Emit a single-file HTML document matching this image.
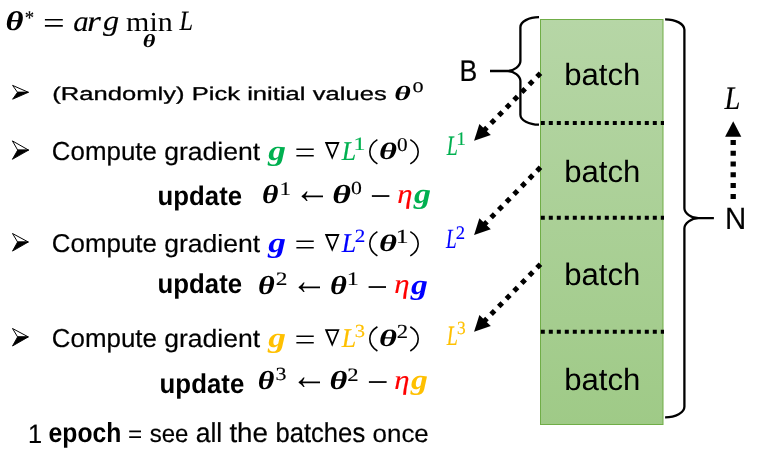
<!DOCTYPE html>
<html><head><meta charset="utf-8"><style>
html,body{margin:0;padding:0;background:#fff;width:758px;height:456px;overflow:hidden}
svg{display:block;will-change:transform}
text{text-rendering:geometricPrecision}
</style></head><body>
<svg width="758" height="456" viewBox="0 0 758 456">
<defs><linearGradient id="gr" x1="0" y1="0" x2="0" y2="1">
<stop offset="0" stop-color="#B6D6A6"/><stop offset="1" stop-color="#9FCA87"/></linearGradient></defs>
<rect x="540.5" y="19.5" width="122.5" height="405" fill="url(#gr)" stroke="#70AD47" stroke-width="1"/>
<line x1="540.8" y1="123.0" x2="664" y2="123.0" stroke="#000" stroke-width="4" stroke-dasharray="4 4"/>
<line x1="540.8" y1="217.8" x2="664" y2="217.8" stroke="#000" stroke-width="4" stroke-dasharray="4 4"/>
<line x1="540.8" y1="331.8" x2="664" y2="331.8" stroke="#000" stroke-width="4" stroke-dasharray="4 4"/>
<path d="M539,17.2 C528.77,17.2 520.4,21.7 520.4,27.2 L520.4,61.0 C520.4,66.0 513.9,71.0 507.4,71.0 L490,71.0 M507.4,71.0 C513.9,71.0 520.4,76.0 520.4,81.0 L520.4,114.7 C520.4,120.2 528.77,124.7 539,124.7" fill="none" stroke="#000" stroke-width="2.3" stroke-linejoin="round"/>
<path d="M665.1,19.3 C675.715,19.3 684.4,24.025000000000002 684.4,29.8 L684.4,208.2 C684.4,213.2 691.4,218.2 698.4,218.2 L713.9,218.2 M698.4,218.2 C691.4,218.2 684.4,223.2 684.4,228.2 L684.4,406.8 C684.4,412.575 675.715,417.3 665.1,417.3" fill="none" stroke="#000" stroke-width="2.3" stroke-linejoin="round"/>
<line x1="540.47" y1="73.13" x2="482.50" y2="132.10" stroke="#000" stroke-width="5" stroke-dasharray="5 5.9"/>
<path d="M474.1,140.70 L479.4,124.00 L490.8,135.00 Z" fill="#000"/>
<line x1="540.47" y1="167.33" x2="482.50" y2="226.30" stroke="#000" stroke-width="5" stroke-dasharray="5 5.9"/>
<path d="M474.1,234.90 L479.4,218.20 L490.8,229.20 Z" fill="#000"/>
<line x1="540.47" y1="264.13" x2="482.50" y2="323.10" stroke="#000" stroke-width="5" stroke-dasharray="5 5.9"/>
<path d="M474.1,331.70 L479.4,315.00 L490.8,326.00 Z" fill="#000"/>
<path d="M733.2,121.2 L725.1,136.8 L741.3,136.8 Z" fill="#000"/>
<line x1="733.2" y1="139.9" x2="733.2" y2="199.5" stroke="#000" stroke-width="5.3" stroke-dasharray="5 5.8"/>
<text transform="matrix(0.34624 0 0 0.27042 5.60 30.43)" font-family="Liberation Serif" font-weight="bold" font-style="italic" font-size="100" fill="#000">θ</text>
<text transform="matrix(0.18875 0 0 0.19456 24.83 24.32)" font-family="Liberation Serif" font-weight="normal" font-style="normal" font-size="100" fill="#000" stroke="#000" stroke-width="0.78">*</text>
<text transform="matrix(0.38495 0 0 0.30800 43.08 32.89)" font-family="Liberation Serif" font-weight="normal" font-style="normal" font-size="100" fill="#000">=</text>
<text transform="matrix(0.30867 0 0 0.29062 73.15 30.53)" font-family="Liberation Serif" font-weight="normal" font-style="italic" font-size="100" fill="#000" stroke="#000" stroke-width="0.50">a</text>
<text transform="matrix(0.35603 0 0 0.29468 87.05 30.72)" font-family="Liberation Serif" font-weight="normal" font-style="italic" font-size="100" fill="#000" stroke="#000" stroke-width="0.46">r</text>
<text transform="matrix(0.32234 0 0 0.28059 102.98 30.06)" font-family="Liberation Serif" font-weight="normal" font-style="italic" font-size="100" fill="#000" stroke="#000" stroke-width="0.50">g</text>
<text transform="matrix(0.30000 0 0 0.27623 126.10 30.60)" font-family="Liberation Serif" font-weight="normal" font-style="normal" font-size="100" fill="#000">min</text>
<text transform="matrix(0.24327 0 0 0.28015 179.58 30.33)" font-family="Liberation Serif" font-weight="normal" font-style="italic" font-size="100" fill="#000" stroke="#000" stroke-width="0.57">L</text>
<text transform="matrix(0.24301 0 0 0.18451 142.79 46.72)" font-family="Liberation Serif" font-weight="bold" font-style="italic" font-size="100" fill="#000">θ</text>
<path d="M12.6,85.4 L28.4,92.3 L17.5,92.3 Z" fill="#fff" stroke="#000" stroke-width="1.0" stroke-linejoin="round"/>
<path d="M17.5,92.3 L28.4,92.3 L12.6,99.19999999999999 Z" fill="#000" stroke="#000" stroke-width="0.9" stroke-linejoin="round"/>
<path d="M12.4,140.9 L28.599999999999998,150.1 L17.7,150.1 Z" fill="#fff" stroke="#000" stroke-width="1.0" stroke-linejoin="round"/>
<path d="M17.7,150.1 L28.599999999999998,150.1 L12.4,159.29999999999998 Z" fill="#000" stroke="#000" stroke-width="0.9" stroke-linejoin="round"/>
<path d="M12.5,233.5 L28.299999999999997,242 L17.6,242 Z" fill="#fff" stroke="#000" stroke-width="1.0" stroke-linejoin="round"/>
<path d="M17.6,242 L28.299999999999997,242 L12.5,251.1 Z" fill="#000" stroke="#000" stroke-width="0.9" stroke-linejoin="round"/>
<path d="M12.5,328.5 L28.299999999999997,336.9 L17.6,336.9 Z" fill="#fff" stroke="#000" stroke-width="1.0" stroke-linejoin="round"/>
<path d="M17.6,336.9 L28.299999999999997,336.9 L12.5,346.0 Z" fill="#000" stroke="#000" stroke-width="0.9" stroke-linejoin="round"/>
<text transform="matrix(0.25616 0 0 0.18552 52.17 99.73)" font-family="Liberation Sans" font-weight="normal" font-style="normal" font-size="100" fill="#000" stroke="#000" stroke-width="1.58">(Randomly) Pick initial values</text>
<text transform="matrix(0.31828 0 0 0.20423 394.31 99.90)" font-family="Liberation Serif" font-weight="bold" font-style="italic" font-size="100" fill="#000">θ</text>
<text transform="matrix(0.22235 0 0 0.14593 412.54 92.38)" font-family="Liberation Serif" font-weight="normal" font-style="normal" font-size="100" fill="#000" stroke="#000" stroke-width="0.81">0</text>
<text transform="matrix(0.25902 0 0 0.26093 51.80 159.90)" font-family="Liberation Sans" font-weight="normal" font-style="normal" font-size="100" fill="#000" stroke="#000" stroke-width="0.77">Compute</text>
<text transform="matrix(0.26554 0 0 0.25103 164.17 159.90)" font-family="Liberation Sans" font-weight="normal" font-style="normal" font-size="100" fill="#000" stroke="#000" stroke-width="0.77">gradient</text>
<text transform="matrix(0.35306 0 0 0.28132 268.22 159.62)" font-family="Liberation Serif" font-weight="bold" font-style="italic" font-size="100" fill="#00B050">g</text>
<text transform="matrix(0.37419 0 0 0.31600 294.53 162.66)" font-family="Liberation Serif" font-weight="normal" font-style="normal" font-size="100" fill="#000">=</text>
<path d="M324.80,142.10 L339.60,142.10 L332.20,159.70 Z M327.66,144.00 L332.36,155.18 L337.07,144.00 Z" fill="#000" fill-rule="evenodd"/>
<text transform="matrix(0.25865 0 0 0.26947 341.80 159.62)" font-family="Liberation Serif" font-weight="normal" font-style="italic" font-size="100" fill="#00B050" stroke="#00B050" stroke-width="0.57">L</text>
<text transform="matrix(0.23972 0 0 0.18712 353.58 150.32)" font-family="Liberation Serif" font-weight="normal" font-style="normal" font-size="100" fill="#00B050" stroke="#00B050" stroke-width="0.70">1</text>
<path d="M377.40,139.60 C367.27,145.88 367.27,157.62 377.40,163.90" fill="none" stroke="#000" stroke-width="1.6"/>
<text transform="matrix(0.34624 0 0 0.23662 379.10 159.06)" font-family="Liberation Serif" font-weight="bold" font-style="italic" font-size="100" fill="#000">θ</text>
<text transform="matrix(0.21294 0 0 0.19630 397.08 150.83)" font-family="Liberation Serif" font-weight="normal" font-style="normal" font-size="100" fill="#000" stroke="#000" stroke-width="0.73">0</text>
<path d="M410.30,139.60 C420.83,145.88 420.83,157.62 410.30,163.90" fill="none" stroke="#000" stroke-width="1.6"/>
<text transform="matrix(0.25902 0 0 0.25806 51.80 251.50)" font-family="Liberation Sans" font-weight="normal" font-style="normal" font-size="100" fill="#000" stroke="#000" stroke-width="0.77">Compute</text>
<text transform="matrix(0.26554 0 0 0.24828 164.17 251.50)" font-family="Liberation Sans" font-weight="normal" font-style="normal" font-size="100" fill="#000" stroke="#000" stroke-width="0.78">gradient</text>
<text transform="matrix(0.35306 0 0 0.28132 268.22 251.62)" font-family="Liberation Serif" font-weight="bold" font-style="italic" font-size="100" fill="#0000FF">g</text>
<text transform="matrix(0.37419 0 0 0.31600 294.53 254.66)" font-family="Liberation Serif" font-weight="normal" font-style="normal" font-size="100" fill="#000">=</text>
<path d="M324.80,234.10 L339.60,234.10 L332.20,251.70 Z M327.66,236.00 L332.36,247.18 L337.07,236.00 Z" fill="#000" fill-rule="evenodd"/>
<text transform="matrix(0.25865 0 0 0.26947 341.80 251.62)" font-family="Liberation Serif" font-weight="normal" font-style="italic" font-size="100" fill="#0000FF" stroke="#0000FF" stroke-width="0.57">L</text>
<text transform="matrix(0.21125 0 0 0.18642 354.72 242.32)" font-family="Liberation Serif" font-weight="normal" font-style="normal" font-size="100" fill="#0000FF" stroke="#0000FF" stroke-width="0.75">2</text>
<path d="M377.40,231.60 C367.27,237.88 367.27,249.62 377.40,255.90" fill="none" stroke="#000" stroke-width="1.6"/>
<text transform="matrix(0.34624 0 0 0.23662 379.10 251.06)" font-family="Liberation Serif" font-weight="bold" font-style="italic" font-size="100" fill="#000">θ</text>
<text transform="matrix(0.25674 0 0 0.20076 395.63 243.03)" font-family="Liberation Serif" font-weight="normal" font-style="normal" font-size="100" fill="#000" stroke="#000" stroke-width="0.66">1</text>
<path d="M410.30,231.60 C420.83,237.88 420.83,249.62 410.30,255.90" fill="none" stroke="#000" stroke-width="1.6"/>
<text transform="matrix(0.25902 0 0 0.25950 51.80 346.50)" font-family="Liberation Sans" font-weight="normal" font-style="normal" font-size="100" fill="#000" stroke="#000" stroke-width="0.77">Compute</text>
<text transform="matrix(0.26554 0 0 0.24966 164.17 346.50)" font-family="Liberation Sans" font-weight="normal" font-style="normal" font-size="100" fill="#000" stroke="#000" stroke-width="0.78">gradient</text>
<text transform="matrix(0.35306 0 0 0.28132 268.22 346.72)" font-family="Liberation Serif" font-weight="bold" font-style="italic" font-size="100" fill="#FFC000">g</text>
<text transform="matrix(0.37419 0 0 0.31600 294.53 349.76)" font-family="Liberation Serif" font-weight="normal" font-style="normal" font-size="100" fill="#000">=</text>
<path d="M324.80,329.20 L339.60,329.20 L332.20,346.80 Z M327.66,331.10 L332.36,342.28 L337.07,331.10 Z" fill="#000" fill-rule="evenodd"/>
<text transform="matrix(0.25865 0 0 0.26947 341.80 346.73)" font-family="Liberation Serif" font-weight="normal" font-style="italic" font-size="100" fill="#FFC000" stroke="#FFC000" stroke-width="0.57">L</text>
<text transform="matrix(0.20485 0 0 0.18364 354.70 337.24)" font-family="Liberation Serif" font-weight="normal" font-style="normal" font-size="100" fill="#FFC000" stroke="#FFC000" stroke-width="0.77">3</text>
<path d="M377.40,326.70 C367.27,332.98 367.27,344.73 377.40,351.00" fill="none" stroke="#000" stroke-width="1.6"/>
<text transform="matrix(0.34624 0 0 0.23662 379.10 346.16)" font-family="Liberation Serif" font-weight="bold" font-style="italic" font-size="100" fill="#000">θ</text>
<text transform="matrix(0.22625 0 0 0.20000 396.86 338.12)" font-family="Liberation Serif" font-weight="normal" font-style="normal" font-size="100" fill="#000" stroke="#000" stroke-width="0.70">2</text>
<path d="M410.30,326.70 C420.83,332.98 420.83,344.73 410.30,351.00" fill="none" stroke="#000" stroke-width="1.6"/>
<text transform="matrix(0.25797 0 0 0.26897 157.59 205.10)" font-family="Liberation Sans" font-weight="bold" font-style="normal" font-size="100" fill="#000">update</text>
<text transform="matrix(0.25797 0 0 0.27310 157.59 293.40)" font-family="Liberation Sans" font-weight="bold" font-style="normal" font-size="100" fill="#000">update</text>
<text transform="matrix(0.25829 0 0 0.27310 159.59 393.40)" font-family="Liberation Sans" font-weight="bold" font-style="normal" font-size="100" fill="#000">update</text>
<text transform="matrix(0.31613 0 0 0.26197 261.91 203.14)" font-family="Liberation Serif" font-weight="bold" font-style="italic" font-size="100" fill="#000">θ</text>
<text transform="matrix(0.23121 0 0 0.19015 279.45 194.53)" font-family="Liberation Serif" font-weight="normal" font-style="normal" font-size="100" fill="#000" stroke="#000" stroke-width="0.71">1</text>
<text transform="matrix(0.36102 0 0 0.40430 294.20 202.62)" font-family="Liberation Serif" font-weight="normal" font-style="normal" font-size="100" fill="#000">←</text>
<text transform="matrix(0.35914 0 0 0.26197 332.25 203.14)" font-family="Liberation Serif" font-weight="bold" font-style="italic" font-size="100" fill="#000">θ</text>
<text transform="matrix(0.21765 0 0 0.18593 351.06 194.34)" font-family="Liberation Serif" font-weight="normal" font-style="normal" font-size="100" fill="#000" stroke="#000" stroke-width="0.74">0</text>
<text transform="matrix(0.37634 0 0 0.36000 370.12 207.87)" font-family="Liberation Serif" font-weight="normal" font-style="normal" font-size="100" fill="#000">−</text>
<text transform="matrix(0.30833 0 0 0.27473 397.20 202.59)" font-family="Liberation Serif" font-weight="normal" font-style="italic" font-size="100" fill="#FF0000" stroke="#FF0000" stroke-width="0.51">η</text>
<text transform="matrix(0.33878 0 0 0.27985 414.09 202.75)" font-family="Liberation Serif" font-weight="bold" font-style="italic" font-size="100" fill="#00B050">g</text>
<text transform="matrix(0.32258 0 0 0.26197 258.09 294.04)" font-family="Liberation Serif" font-weight="bold" font-style="italic" font-size="100" fill="#000">θ</text>
<text transform="matrix(0.23375 0 0 0.18943 275.72 285.43)" font-family="Liberation Serif" font-weight="normal" font-style="normal" font-size="100" fill="#000" stroke="#000" stroke-width="0.71">2</text>
<text transform="matrix(0.36102 0 0 0.40430 291.30 293.52)" font-family="Liberation Serif" font-weight="normal" font-style="normal" font-size="100" fill="#000">←</text>
<text transform="matrix(0.32473 0 0 0.26197 329.98 294.04)" font-family="Liberation Serif" font-weight="bold" font-style="italic" font-size="100" fill="#000">θ</text>
<text transform="matrix(0.24255 0 0 0.19015 346.85 285.43)" font-family="Liberation Serif" font-weight="normal" font-style="normal" font-size="100" fill="#000" stroke="#000" stroke-width="0.69">1</text>
<text transform="matrix(0.37419 0 0 0.36000 366.63 298.77)" font-family="Liberation Serif" font-weight="normal" font-style="normal" font-size="100" fill="#000">−</text>
<text transform="matrix(0.30833 0 0 0.27473 394.30 293.49)" font-family="Liberation Serif" font-weight="normal" font-style="italic" font-size="100" fill="#FF0000" stroke="#FF0000" stroke-width="0.51">η</text>
<text transform="matrix(0.33673 0 0 0.27985 411.09 293.65)" font-family="Liberation Serif" font-weight="bold" font-style="italic" font-size="100" fill="#0000FF">g</text>
<text transform="matrix(0.32043 0 0 0.26197 257.70 389.24)" font-family="Liberation Serif" font-weight="bold" font-style="italic" font-size="100" fill="#000">θ</text>
<text transform="matrix(0.21939 0 0 0.18662 275.43 380.44)" font-family="Liberation Serif" font-weight="normal" font-style="normal" font-size="100" fill="#000" stroke="#000" stroke-width="0.74">3</text>
<text transform="matrix(0.36102 0 0 0.40430 291.30 388.72)" font-family="Liberation Serif" font-weight="normal" font-style="normal" font-size="100" fill="#000">←</text>
<text transform="matrix(0.34409 0 0 0.26197 329.41 389.24)" font-family="Liberation Serif" font-weight="bold" font-style="italic" font-size="100" fill="#000">θ</text>
<text transform="matrix(0.22625 0 0 0.18943 347.16 380.62)" font-family="Liberation Serif" font-weight="normal" font-style="normal" font-size="100" fill="#000" stroke="#000" stroke-width="0.72">2</text>
<text transform="matrix(0.38065 0 0 0.36000 367.00 393.97)" font-family="Liberation Serif" font-weight="normal" font-style="normal" font-size="100" fill="#000">−</text>
<text transform="matrix(0.30833 0 0 0.27473 394.30 388.69)" font-family="Liberation Serif" font-weight="normal" font-style="italic" font-size="100" fill="#FF0000" stroke="#FF0000" stroke-width="0.51">η</text>
<text transform="matrix(0.33673 0 0 0.27985 411.09 388.85)" font-family="Liberation Serif" font-weight="bold" font-style="italic" font-size="100" fill="#FFC000">g</text>
<text transform="matrix(0.25434 0 0 0.26327 27.99 442.50)" font-family="Liberation Sans" font-weight="normal" font-style="normal" font-size="100" fill="#000" stroke="#000" stroke-width="0.77">1</text>
<text transform="matrix(0.24745 0 0 0.27586 48.61 442.20)" font-family="Liberation Sans" font-weight="bold" font-style="normal" font-size="100" fill="#000">epoch</text>
<text transform="matrix(0.24330 0 0 0.23566 127.98 442.05)" font-family="Liberation Sans" font-weight="normal" font-style="normal" font-size="100" fill="#000">=</text>
<text transform="matrix(0.24026 0 0 0.24840 149.74 442.05)" font-family="Liberation Sans" font-weight="normal" font-style="normal" font-size="100" fill="#000" stroke="#000" stroke-width="0.82">see</text>
<text transform="matrix(0.26517 0 0 0.27310 195.67 442.10)" font-family="Liberation Sans" font-weight="normal" font-style="normal" font-size="100" fill="#000" stroke="#000" stroke-width="0.74">all</text>
<text transform="matrix(0.27767 0 0 0.27310 229.38 442.10)" font-family="Liberation Sans" font-weight="normal" font-style="normal" font-size="100" fill="#000" stroke="#000" stroke-width="0.73">the</text>
<text transform="matrix(0.25628 0 0 0.27310 275.43 442.10)" font-family="Liberation Sans" font-weight="normal" font-style="normal" font-size="100" fill="#000" stroke="#000" stroke-width="0.76">batches</text>
<text transform="matrix(0.25882 0 0 0.24840 372.60 442.05)" font-family="Liberation Sans" font-weight="normal" font-style="normal" font-size="100" fill="#000" stroke="#000" stroke-width="0.79">once</text>
<text transform="matrix(0.31188 0 0 0.30897 564.17 84.70)" font-family="Liberation Sans" font-weight="normal" font-style="normal" font-size="100" fill="#000">batch</text>
<text transform="matrix(0.31188 0 0 0.30897 564.17 182.30)" font-family="Liberation Sans" font-weight="normal" font-style="normal" font-size="100" fill="#000">batch</text>
<text transform="matrix(0.31188 0 0 0.31034 564.17 285.40)" font-family="Liberation Sans" font-weight="normal" font-style="normal" font-size="100" fill="#000">batch</text>
<text transform="matrix(0.31188 0 0 0.30897 564.17 389.70)" font-family="Liberation Sans" font-weight="normal" font-style="normal" font-size="100" fill="#000">batch</text>
<text transform="matrix(0.26667 0 0 0.29964 459.50 80.60)" font-family="Liberation Sans" font-weight="normal" font-style="normal" font-size="100" fill="#000" stroke="#000" stroke-width="0.71">B</text>
<text transform="matrix(0.29417 0 0 0.30691 724.97 228.90)" font-family="Liberation Sans" font-weight="normal" font-style="normal" font-size="100" fill="#000" stroke="#000" stroke-width="0.67">N</text>
<text transform="matrix(0.28558 0 0 0.32748 724.43 109.42)" font-family="Liberation Serif" font-weight="normal" font-style="italic" font-size="100" fill="#000" stroke="#000" stroke-width="0.49">L</text>
<text transform="matrix(0.19904 0 0 0.28168 446.82 154.53)" font-family="Liberation Serif" font-weight="normal" font-style="italic" font-size="100" fill="#00B050" stroke="#00B050" stroke-width="0.62">L</text>
<text transform="matrix(0.19433 0 0 0.19015 456.37 144.62)" font-family="Liberation Serif" font-weight="normal" font-style="normal" font-size="100" fill="#00B050" stroke="#00B050" stroke-width="0.78">1</text>
<text transform="matrix(0.19135 0 0 0.27863 445.91 248.43)" font-family="Liberation Serif" font-weight="normal" font-style="italic" font-size="100" fill="#0000FF" stroke="#0000FF" stroke-width="0.64">L</text>
<text transform="matrix(0.18625 0 0 0.19094 455.84 238.83)" font-family="Liberation Serif" font-weight="normal" font-style="normal" font-size="100" fill="#0000FF" stroke="#0000FF" stroke-width="0.80">2</text>
<text transform="matrix(0.19904 0 0 0.28168 446.82 344.53)" font-family="Liberation Serif" font-weight="normal" font-style="italic" font-size="100" fill="#FFC000" stroke="#FFC000" stroke-width="0.62">L</text>
<text transform="matrix(0.17333 0 0 0.18662 457.05 334.44)" font-family="Liberation Serif" font-weight="normal" font-style="normal" font-size="100" fill="#FFC000" stroke="#FFC000" stroke-width="0.83">3</text>
</svg></body></html>
